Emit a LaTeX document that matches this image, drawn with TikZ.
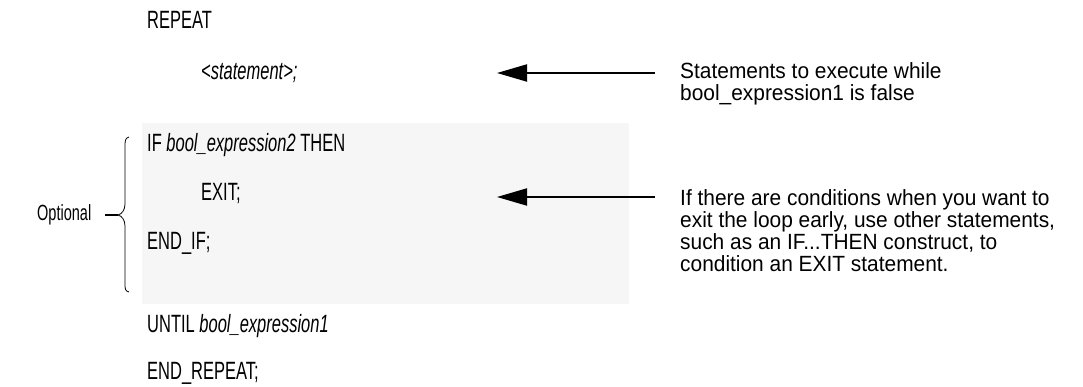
\documentclass[tikz,border=0pt]{standalone}
\usepackage{fontspec}
\setmainfont[FakeStretch=0.66]{Liberation Sans}
\newfontfamily\notefont[FakeStretch=0.95]{Liberation Sans}
\usetikzlibrary{arrows.meta}
\definecolor{boxgray}{HTML}{F6F6F6}
\tikzset{
  code/.style={anchor=base west, inner sep=0pt, font=\fontsize{25}{30}\selectfont},
  note/.style={anchor=base west, inner sep=0pt, align=left, font=\notefont\fontsize{22}{22}\selectfont},
  side/.style={anchor=base west, inner sep=0pt, font=\fontsize{22}{22}\selectfont},
  pointer/.style={line width=2pt, -{Triangle[length=30pt,width=17pt]}},
  brace/.style={line width=0.8pt},
  tick/.style={line width=2pt}
}
\begin{document}
\begin{tikzpicture}[x=1pt,y=-1pt]
\useasboundingbox (0,0) rectangle (1083,387);
\fill[boxgray] (142,123) rectangle (629,304);
\node[code] (rep) at (147,29) {REPEAT};
\node[code] (stm) at (201,80) {\itshape<statement>;};
\node[code] (if) at (147,152) {IF \textit{bool\_expression2} THEN};
\node[code] (exit) at (201,201) {EXIT;};
\node[code] (endif) at (147,249) {END\_IF;};
\node[code] (until) at (147,332) {UNTIL \textit{bool\_expression1}};
\node[code] (endrep) at (147,379) {END\_REPEAT;};
% base anchor of a multi-line node is its last line
\node[note] (n1) at (680,101) {Statements to execute while\\bool\_expression1 is false};
\node[note] (n2) at (680,271) {If there are conditions when you want to\\exit the loop early, use other statements,\\such as an IF...THEN construct, to\\condition an EXIT statement.};
\node[side] (opt) at (37,221) {Optional};
\coordinate (a1s) at (655,73);
\coordinate (a1e) at (497,73);
\coordinate (a2s) at (655,197);
\coordinate (a2e) at (497,197);
\draw[pointer] (a1s) -- (a1e);
\draw[pointer] (a2s) -- (a2e);
\coordinate (bt) at (129,137);
\coordinate (bm) at (118,215);
\coordinate (bb) at (129,292);
\draw[brace] (bt) .. controls (125,138) and (125,141) .. (125,147)
  -- (125,204) .. controls (125,210) and (122,214) .. (bm)
  .. controls (122,216) and (125,220) .. (125,226)
  -- (125,283) .. controls (125,289) and (125,291) .. (bb);
\coordinate (tk) at (105,215);
\draw[tick] (tk) -- (bm);
\end{tikzpicture}
\end{document}
